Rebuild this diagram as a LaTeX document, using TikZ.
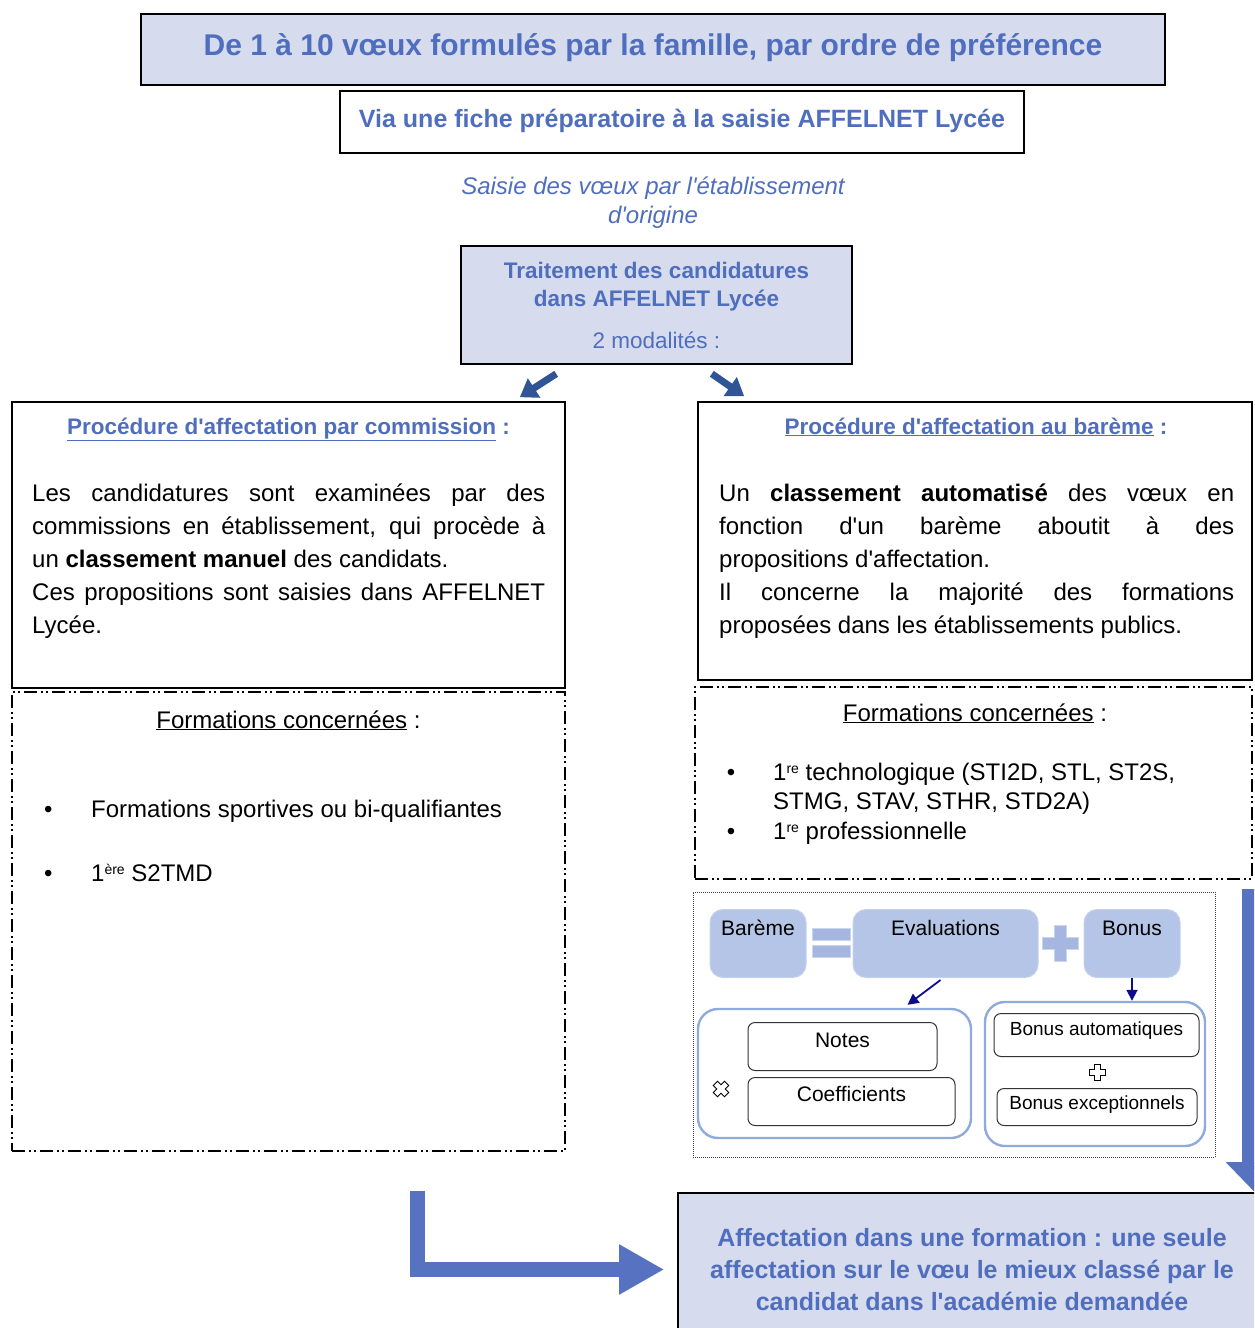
\documentclass[tikz,border=0pt]{standalone}
\usepackage{fontspec}
\setmainfont{Liberation Sans}[Ligatures=TeXOff]
\usetikzlibrary{arrows.meta,calc}
\definecolor{bleutexte}{RGB}{80,110,190}
\definecolor{fondbleu}{RGB}{214,220,238}
\definecolor{flechebleue}{RGB}{86,114,192}
\definecolor{flechefoncee}{RGB}{47,85,151}
\definecolor{barfill}{RGB}{180,197,231}
\definecolor{egalfill}{RGB}{165,182,224}
\definecolor{contour}{RGB}{143,170,220}
\definecolor{marine}{RGB}{12,12,140}
\newcommand{\corps}{\fontsize{24}{33}\selectfont}
\newcommand{\titre}{\fontsize{22.5}{27}\selectfont\bfseries}
\newcommand{\exposant}[1]{\raisebox{7pt}{\fontsize{14}{14}\selectfont #1}}
\tolerance=9999

\begin{document}
\begin{tikzpicture}[x=1pt,y=-1pt,
  boite/.style={draw=black,line width=1.6pt,inner sep=0pt},
  boitebleue/.style={boite,fill=fondbleu},
  texte/.style={inner sep=0pt},
  tirets/.style={draw=black,line width=1.4pt,dash pattern=on 13pt off 4pt on 2pt off 3pt on 2pt off 4pt},
  pointilles/.style={draw=black!75,line width=0.7pt,dash pattern=on 1pt off 1pt},
  pave/.style={fill=barfill,draw=barfill!80!white,line width=1pt,rounded corners=13pt,inner sep=0pt,anchor=north,font=\fontsize{21}{25}\selectfont},
  egal/.style={fill=egalfill,draw=barfill!70!white,line width=1pt},
  cadre/.style={draw=contour,line width=2.4pt,rounded corners=20pt},
  petit/.style={draw=black!80,line width=1pt,rounded corners=7pt,inner sep=0pt,anchor=north},
  fleche/.style={draw=marine,line width=1.8pt,-{Triangle[length=11pt,width=11pt]}},
  flechecourte/.style={draw=flechefoncee,line width=7pt,-{Triangle[length=17pt,width=22pt]}},
  grossefleche/.style={draw=flechebleue},
  croix/.pic={\draw[line width=0.9pt] (-3,-8) -- (3,-8) -- (3,-3) -- (8,-3) -- (8,3) -- (3,3) -- (3,8) -- (-3,8) -- (-3,3) -- (-8,3) -- (-8,-3) -- (-3,-3) -- cycle;}]
\useasboundingbox (0,0) rectangle (1254,1328);
\clip (0,0) rectangle (1254,1328);

\node[boitebleue, minimum width=1024pt, text height=42pt, text depth=29pt, anchor=north, text=bleutexte, font=\fontsize{30}{36}\selectfont\bfseries] (voeux) at (653,13) {De 1 à 10 vœux formulés par la famille, par ordre de préférence};
\node[boite, minimum width=684pt, text height=37pt, text depth=25pt, anchor=north, text=bleutexte, font=\fontsize{25}{30}\selectfont\bfseries] (fiche) at (682,90) {Via une fiche préparatoire à la saisie AFFELNET Lycée};
\node[texte, text=bleutexte, align=center, font=\fontsize{24}{29}\selectfont\itshape] (saisie) at (653,203) {Saisie des vœux par l'établissement\\d'origine};
\node[boitebleue, minimum width=391pt, minimum height=118pt, text=bleutexte, align=center, font=\fontsize{22.5}{28}\selectfont] (traitement) at (656.5,305) {\textbf{Traitement des candidatures}\\\textbf{dans AFFELNET Lycée}\\[14pt]2 modalités :};

\node[boite, minimum width=553pt, minimum height=286pt] (commission) at (288.5,545) {};
\node[texte, anchor=base, text=bleutexte, font=\titre] (titreG) at (288.5,434) {\underline{Procédure d'affectation par commission} :};
\node[texte, anchor=north west, text width=513pt, align=justify, font=\corps] (texteG) at (32,478) {\strut Les candidatures sont examinées par des\linebreak commissions en établissement, qui procède à\linebreak un \textbf{classement manuel} des candidats.\\Ces propositions sont saisies dans AFFELNET\linebreak Lycée.};

\node[tirets, minimum width=553pt, minimum height=459pt] (formgauche) at (288.5,921.5) {};
\node[texte, anchor=base, font=\corps] (titreFG) at (288.5,728) {\underline{Formations concernées} :};
\node[texte, anchor=base west, font=\corps] (sport) at (44,817) {\makebox[47pt][l]{•}Formations sportives ou bi-qualifiantes};
\node[texte, anchor=base west, font=\corps] (stmd) at (44,881) {\makebox[47pt][l]{•}1\exposant{ère} S2TMD};

\node[boite, minimum width=554pt, minimum height=278pt] (bareme) at (975,541) {};
\node[texte, anchor=base, text=bleutexte, font=\titre] (titreD) at (976,434) {\underline{Procédure d'affectation au barème} :};
\node[texte, anchor=north west, text width=515pt, align=justify, font=\corps] (texteD) at (719,478) {\strut Un \textbf{classement automatisé} des vœux en\linebreak fonction d'un barème aboutit à des\linebreak propositions d'affectation.\\Il concerne la majorité des formations\linebreak proposées dans les établissements publics.};

\node[tirets, minimum width=557pt, minimum height=192pt] (formdroite) at (973.5,783) {};
\node[texte, anchor=base, font=\corps] (titreFD) at (975,721) {\underline{Formations concernées} :};
\node[texte, anchor=base, font=\corps] (puce1) at (731,780) {•};
\node[texte, anchor=north west, align=left, font=\fontsize{24}{29}\selectfont] (techno) at (773,759.7) {\strut 1\exposant{re} technologique (STI2D, STL, ST2S,\\STMG, STAV, STHR, STD2A)};
\node[texte, anchor=base, font=\corps] (puce2) at (731,839) {•};
\node[texte, anchor=base west, font=\corps] (pro) at (773,839) {1\exposant{re} professionnelle};

\node[pointilles, minimum width=522pt, minimum height=265pt] (calcul) at (954,1024.5) {};
\node[pave, minimum width=96pt, text height=26pt, text depth=42pt] (bar) at (758,909) {Barème};
\node[pave, minimum width=185pt, text height=26pt, text depth=42pt] (eval) at (945.5,909) {Evaluations};
\node[pave, minimum width=96pt, text height=26pt, text depth=42pt] (bonus) at (1132,909) {Bonus};
\draw[egal] (812,928) rectangle (850,940);
\draw[egal] (812,945) rectangle (850,957);
\draw[egal] (1054,925) -- (1066,925) -- (1066,937) -- (1078,937) -- (1078,949) -- (1066,949) -- (1066,961) -- (1054,961) -- (1054,949) -- (1042,949) -- (1042,937) -- (1054,937) -- cycle;

\node[cadre, minimum width=273pt, minimum height=129pt] (evalcont) at (834.5,1073.5) {};
\node[cadre, minimum width=220pt, minimum height=144pt] (bonuscont) at (1095,1074) {};
\node[petit, minimum width=189pt, text height=25pt, text depth=23pt, font=\fontsize{21}{25}\selectfont] (notes) at (842.5,1022) {Notes};
\node[petit, minimum width=207pt, text height=24pt, text depth=24pt, font=\fontsize{21}{25}\selectfont] (coef) at (851.5,1077) {Coefficients};
\node[petit, minimum width=205pt, text height=22pt, text depth=21pt, font=\fontsize{19}{23}\selectfont] (bauto) at (1096.5,1013) {Bonus automatiques};
\node[petit, minimum width=200pt, text height=21pt, text depth=16pt, font=\fontsize{19}{23}\selectfont] (bexc) at (1097,1088) {Bonus exceptionnels};
\pic[rotate=45] at (721,1089) {croix};
\pic at (1097,1072) {croix};

\draw[fleche] ($(eval.south)+(-5,2)$) -- ($(evalcont.north)+(73,-3)$);
\draw[fleche] (bonus.south) -- (bonus.south |- bonuscont.north);

\node[boitebleue, minimum width=588pt, minimum height=153pt, text=bleutexte, align=center, font=\fontsize{25}{32}\selectfont\bfseries] (affect) at (972,1269.5) {Affectation dans une formation : une seule\\affectation sur le vœu le mieux classé par le\\candidat dans l'académie demandée};

\draw[flechecourte] ($(traitement.south west)+(96,9)$) -- ($(commission.north east)+(-46,-4)$);
\draw[flechecourte] ($(traitement.south east)+(-141,9)$) -- ($(bareme.north west)+(47,-5)$);

\coordinate (departD) at ($(formdroite.south east)+(2,9)$);
\draw[grossefleche, line width=26pt, -{Triangle[length=30pt,width=56pt]}] (departD) -- (departD |- affect.north);
\coordinate (departG) at ($(formgauche.south)+(129,39)$);
\draw[grossefleche, line width=15pt, -{Triangle[length=45pt,width=47pt]}] (departG) |- ($(affect.west)+(-13,0)$);
\end{tikzpicture}
\end{document}
